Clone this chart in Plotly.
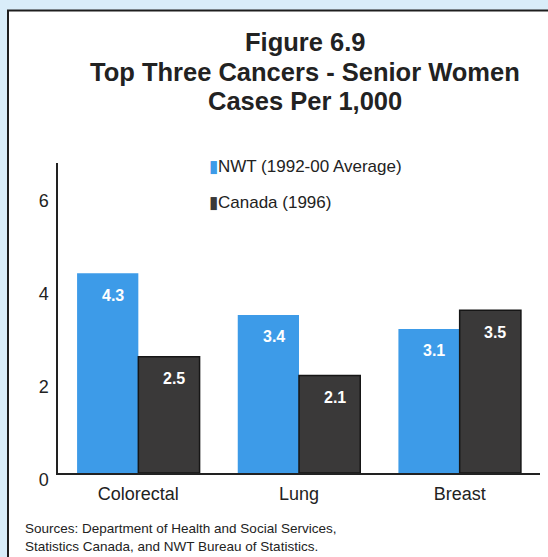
import plotly.graph_objects as go

categories = ["Colorectal", "Lung", "Breast"]
nwt_values = [4.3, 3.4, 3.1]
canada_values = [2.5, 2.1, 3.5]
series_names = ["NWT (1992-00 Average)", "Canada (1996)"]
y_ticks = [0, 2, 4, 6]
title_lines = ["Figure 6.9", "Top Three Cancers - Senior Women", "Cases Per 1,000"]

BLUE = "#3d9be8"
DARK = "#3a3939"
TXT = "#222222"
FONT = "Liberation Sans, Arial, Helvetica, sans-serif"

W, H = 548, 557
L, R, T, B = 58, 8, 163, 84
pw, ph = W - L - R, H - T - B

def px(x):
    return (x - L) / pw

def py(y):
    return (H - B - y) / ph

fig = go.Figure()
fig.add_trace(go.Bar(x=categories, y=nwt_values, name=series_names[0],
                     marker=dict(color=BLUE, line=dict(width=0))))
fig.add_trace(go.Bar(x=categories, y=canada_values, name=series_names[1],
                     marker=dict(color=DARK, line=dict(color="#161616", width=1.5))))

annotations = []
for i, c in enumerate(categories):
    for vals, shift in ((nwt_values, -30.5), (canada_values, 30.5)):
        v = vals[i]
        annotations.append(dict(x=c, y=v, xref="x", yref="y", text=f"<b>{v:.1f}</b>",
                                showarrow=False, xshift=shift + 5, yshift=-22,
                                font=dict(family=FONT, size=16, color="white"),
                                xanchor="center", yanchor="middle"))

# legend as text
annotations.append(dict(xref="paper", yref="paper", x=px(207), y=py(166), xanchor="left", yanchor="middle",
                        showarrow=False, text=f"<span style='color:{BLUE}'>▮</span>{series_names[0]}",
                        font=dict(family=FONT, size=17, color=TXT)))
annotations.append(dict(xref="paper", yref="paper", x=px(207), y=py(202), xanchor="left", yanchor="middle",
                        showarrow=False, text=f"<span style='color:{DARK}'>▮</span>{series_names[1]}",
                        font=dict(family=FONT, size=17, color=TXT)))
# title, one annotation per line
for line, yy in zip(title_lines, (42, 72.5, 101)):
    annotations.append(dict(xref="paper", yref="paper", x=px(305), y=py(yy), xanchor="center", yanchor="middle",
                            showarrow=False, text=f"<b>{line}</b>",
                            font=dict(family=FONT, size=25.5, color=TXT)))
# sources
annotations.append(dict(xref="paper", yref="paper", x=px(23), y=py(537), xanchor="left", yanchor="middle",
                        showarrow=False, align="left",
                        text="Sources: Department of Health and Social Services,<br>Statistics Canada, and NWT Bureau of Statistics.",
                        font=dict(family=FONT, size=13.5, color=TXT)))

shapes = [dict(type="rect", xref="paper", yref="paper", layer="below",
               x0=px(8), x1=px(600), y0=py(620), y1=py(10.5),
               fillcolor="white", line=dict(color="#1e1e1e", width=2))]

fig.update_layout(
    width=W, height=H,
    margin=dict(l=L, r=R, t=T, b=B),
    paper_bgcolor="#d9edf9",
    plot_bgcolor="rgba(0,0,0,0)",
    barmode="group", bargap=0.2375, bargroupgap=0,
    showlegend=False,
    annotations=annotations,
    shapes=shapes,
    font=dict(family=FONT, color=TXT),
    xaxis=dict(showline=True, linecolor="#222", linewidth=1.5, ticks="", showgrid=False,
               tickfont=dict(size=18, color=TXT), ticklabelstandoff=4, range=[-0.5, 2.5]),
    yaxis=dict(showline=True, linecolor="#222", linewidth=1.5, ticks="", showgrid=False, zeroline=False,
               range=[0, 6.67], tickvals=y_ticks, tickfont=dict(size=18, color=TXT),
               ticklabelshift=7, ticklabelstandoff=4),
)

fig.write_html("out.html", config={"displayModeBar": False},
               post_script="document.body.style.margin='0';document.body.style.overflow='hidden';")
